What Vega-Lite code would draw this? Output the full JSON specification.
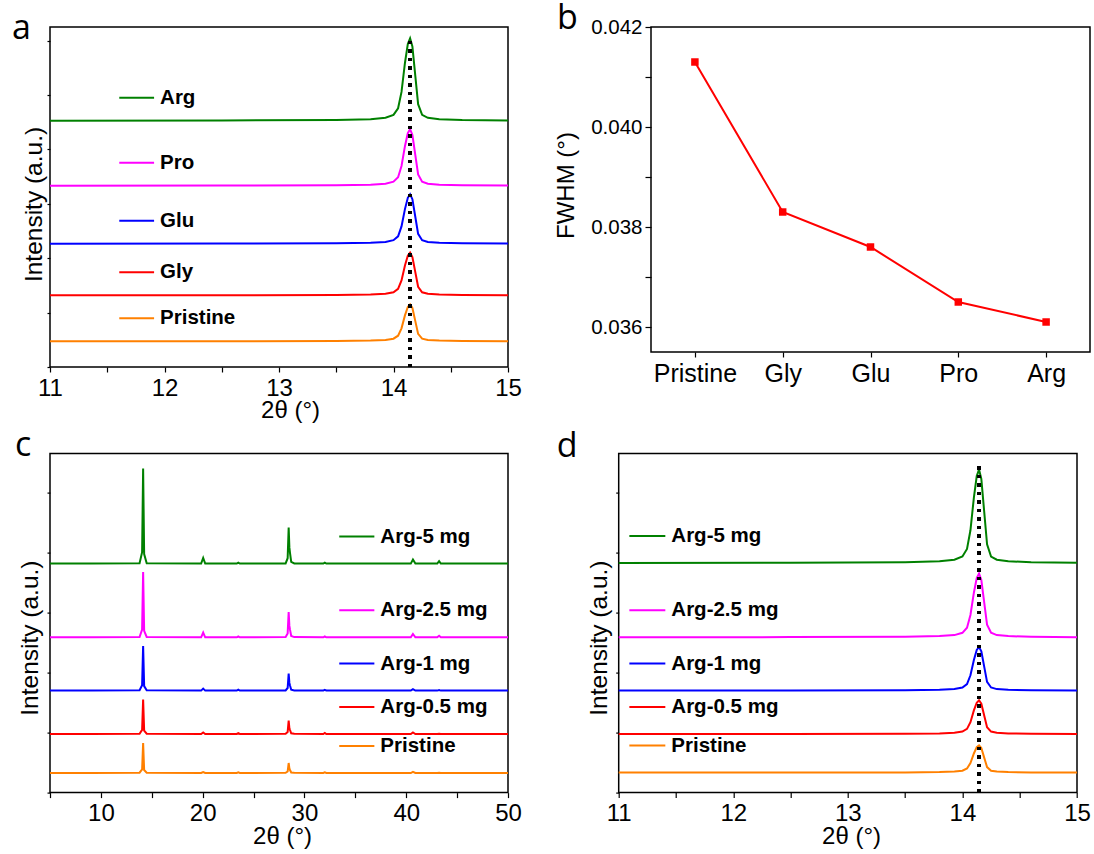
{
  "$schema": "https://vega.github.io/schema/vega-lite/v6.json",
  "padding": {"left": 11, "top": 1, "right": 0, "bottom": 0},
  "spacing": 4.6,
  "resolve": {"scale": {"color": "independent"}},
  "config": {
    "font": "Liberation Sans, Arial, Helvetica, sans-serif",
    "view": {"stroke": "#000", "strokeWidth": 1.5},
    "axis": {"domain": false, "grid": false, "tickColor": "#000", "tickWidth": 1.2, "labelColor": "#000", "titleColor": "#000", "labelFlush": false, "labelOverlap": false, "titleFontWeight": "normal", "labelFont": "Liberation Sans, Arial, sans-serif", "titleFont": "Liberation Sans, Arial, sans-serif"},
    "text": {"font": "Liberation Sans, Arial, sans-serif"},
    "title": {"anchor": "start", "frame": "group", "fontWeight": "normal", "fontSize": 34, "font": "Open Sans, Liberation Sans, sans-serif", "color": "#000", "baseline": "alphabetic"}
  },
  "datasets": {
    "amino": [
      {"sample":"Pristine","angle":11,"intensity":25.7},{"sample":"Pristine","angle":12.5,"intensity":25.8},{"sample":"Pristine","angle":13.5,"intensity":26.0},{"sample":"Pristine","angle":13.8,"intensity":26.4},{"sample":"Pristine","angle":13.93,"intensity":27.0},{"sample":"Pristine","angle":14.0,"intensity":28.3},{"sample":"Pristine","angle":14.04,"intensity":31.3},{"sample":"Pristine","angle":14.07,"intensity":38.7},{"sample":"Pristine","angle":14.1,"intensity":51.6},{"sample":"Pristine","angle":14.125,"intensity":60.1},{"sample":"Pristine","angle":14.145,"intensity":62.7},{"sample":"Pristine","angle":14.165,"intensity":59.0},{"sample":"Pristine","angle":14.19,"intensity":46.1},{"sample":"Pristine","angle":14.215,"intensity":33.1},{"sample":"Pristine","angle":14.25,"intensity":28.3},{"sample":"Pristine","angle":14.3,"intensity":27.0},{"sample":"Pristine","angle":14.4,"intensity":26.4},{"sample":"Pristine","angle":14.6,"intensity":26.0},{"sample":"Pristine","angle":15,"intensity":25.8},
      {"sample":"Gly","angle":11,"intensity":71.7},{"sample":"Gly","angle":12.5,"intensity":71.8},{"sample":"Gly","angle":13.5,"intensity":72.0},{"sample":"Gly","angle":13.8,"intensity":72.5},{"sample":"Gly","angle":13.93,"intensity":73.2},{"sample":"Gly","angle":14.0,"intensity":74.7},{"sample":"Gly","angle":14.04,"intensity":78.1},{"sample":"Gly","angle":14.07,"intensity":86.6},{"sample":"Gly","angle":14.1,"intensity":101.5},{"sample":"Gly","angle":14.125,"intensity":111.3},{"sample":"Gly","angle":14.145,"intensity":114.3},{"sample":"Gly","angle":14.165,"intensity":110.0},{"sample":"Gly","angle":14.19,"intensity":95.1},{"sample":"Gly","angle":14.215,"intensity":80.2},{"sample":"Gly","angle":14.25,"intensity":74.7},{"sample":"Gly","angle":14.3,"intensity":73.2},{"sample":"Gly","angle":14.4,"intensity":72.5},{"sample":"Gly","angle":14.6,"intensity":72.0},{"sample":"Gly","angle":15,"intensity":71.8},
      {"sample":"Glu","angle":11,"intensity":123.3},{"sample":"Glu","angle":12.5,"intensity":123.5},{"sample":"Glu","angle":13.5,"intensity":123.7},{"sample":"Glu","angle":13.8,"intensity":124.2},{"sample":"Glu","angle":13.93,"intensity":125.0},{"sample":"Glu","angle":14.0,"intensity":126.8},{"sample":"Glu","angle":14.04,"intensity":130.7},{"sample":"Glu","angle":14.07,"intensity":140.6},{"sample":"Glu","angle":14.1,"intensity":157.9},{"sample":"Glu","angle":14.125,"intensity":169.2},{"sample":"Glu","angle":14.145,"intensity":172.7},{"sample":"Glu","angle":14.165,"intensity":167.8},{"sample":"Glu","angle":14.19,"intensity":150.5},{"sample":"Glu","angle":14.215,"intensity":133.2},{"sample":"Glu","angle":14.25,"intensity":126.8},{"sample":"Glu","angle":14.3,"intensity":125.0},{"sample":"Glu","angle":14.4,"intensity":124.2},{"sample":"Glu","angle":14.6,"intensity":123.7},{"sample":"Glu","angle":15,"intensity":123.4},
      {"sample":"Pro","angle":11,"intensity":181.3},{"sample":"Pro","angle":12.5,"intensity":181.5},{"sample":"Pro","angle":13.5,"intensity":181.8},{"sample":"Pro","angle":13.8,"intensity":182.3},{"sample":"Pro","angle":13.93,"intensity":183.3},{"sample":"Pro","angle":14.0,"intensity":185.3},{"sample":"Pro","angle":14.04,"intensity":189.8},{"sample":"Pro","angle":14.07,"intensity":201.0},{"sample":"Pro","angle":14.1,"intensity":220.8},{"sample":"Pro","angle":14.125,"intensity":233.8},{"sample":"Pro","angle":14.145,"intensity":237.7},{"sample":"Pro","angle":14.165,"intensity":232.1},{"sample":"Pro","angle":14.19,"intensity":212.3},{"sample":"Pro","angle":14.215,"intensity":192.6},{"sample":"Pro","angle":14.25,"intensity":185.3},{"sample":"Pro","angle":14.3,"intensity":183.3},{"sample":"Pro","angle":14.4,"intensity":182.3},{"sample":"Pro","angle":14.6,"intensity":181.8},{"sample":"Pro","angle":15,"intensity":181.4},
      {"sample":"Arg","angle":11,"intensity":246.3},{"sample":"Arg","angle":12.5,"intensity":246.5},{"sample":"Arg","angle":13.5,"intensity":247.0},{"sample":"Arg","angle":13.8,"intensity":247.8},{"sample":"Arg","angle":13.93,"intensity":249.2},{"sample":"Arg","angle":14.0,"intensity":252.1},{"sample":"Arg","angle":14.04,"intensity":258.7},{"sample":"Arg","angle":14.07,"intensity":275.1},{"sample":"Arg","angle":14.1,"intensity":304.0},{"sample":"Arg","angle":14.125,"intensity":322.9},{"sample":"Arg","angle":14.145,"intensity":328.7},{"sample":"Arg","angle":14.165,"intensity":320.5},{"sample":"Arg","angle":14.19,"intensity":291.6},{"sample":"Arg","angle":14.215,"intensity":262.8},{"sample":"Arg","angle":14.25,"intensity":252.1},{"sample":"Arg","angle":14.3,"intensity":249.2},{"sample":"Arg","angle":14.4,"intensity":247.8},{"sample":"Arg","angle":14.6,"intensity":247.0},{"sample":"Arg","angle":15,"intensity":246.5}
    ],
    "fwhm": [
      {"sample":"Pristine","fwhm":0.0413},
      {"sample":"Gly","fwhm":0.0383},
      {"sample":"Glu","fwhm":0.0376},
      {"sample":"Pro","fwhm":0.0365},
      {"sample":"Arg","fwhm":0.0361}
    ],
    "dose_full": [
      {"sample":"Pristine","angle":5,"intensity":19.6},{"sample":"Pristine","angle":9,"intensity":19.6},{"sample":"Pristine","angle":13.8,"intensity":19.9},{"sample":"Pristine","angle":14.05,"intensity":23.2},{"sample":"Pristine","angle":14.15,"intensity":49.6},{"sample":"Pristine","angle":14.25,"intensity":22.6},{"sample":"Pristine","angle":14.5,"intensity":19.9},{"sample":"Pristine","angle":19.85,"intensity":19.6},{"sample":"Pristine","angle":20.05,"intensity":20.6},{"sample":"Pristine","angle":20.25,"intensity":19.6},{"sample":"Pristine","angle":23.35,"intensity":19.6},{"sample":"Pristine","angle":23.5,"intensity":20.2},{"sample":"Pristine","angle":23.65,"intensity":19.6},{"sample":"Pristine","angle":28.15,"intensity":19.8},{"sample":"Pristine","angle":28.35,"intensity":21.1},{"sample":"Pristine","angle":28.45,"intensity":29.6},{"sample":"Pristine","angle":28.52,"intensity":24.1},{"sample":"Pristine","angle":28.58,"intensity":22.6},{"sample":"Pristine","angle":28.7,"intensity":20.1},{"sample":"Pristine","angle":29.0,"intensity":19.8},{"sample":"Pristine","angle":31.85,"intensity":19.6},{"sample":"Pristine","angle":32.0,"intensity":20.2},{"sample":"Pristine","angle":32.15,"intensity":19.6},{"sample":"Pristine","angle":40.45,"intensity":19.6},{"sample":"Pristine","angle":40.66,"intensity":20.8},{"sample":"Pristine","angle":40.9,"intensity":19.6},{"sample":"Pristine","angle":43.05,"intensity":19.6},{"sample":"Pristine","angle":43.23,"intensity":19.9},{"sample":"Pristine","angle":43.4,"intensity":19.6},{"sample":"Pristine","angle":50,"intensity":19.6},
      {"sample":"Arg-0.5 mg","angle":5,"intensity":58.6},{"sample":"Arg-0.5 mg","angle":9,"intensity":58.6},{"sample":"Arg-0.5 mg","angle":13.8,"intensity":58.9},{"sample":"Arg-0.5 mg","angle":14.05,"intensity":62.7},{"sample":"Arg-0.5 mg","angle":14.15,"intensity":93.0},{"sample":"Arg-0.5 mg","angle":14.25,"intensity":62.0},{"sample":"Arg-0.5 mg","angle":14.5,"intensity":58.9},{"sample":"Arg-0.5 mg","angle":19.85,"intensity":58.6},{"sample":"Arg-0.5 mg","angle":20.05,"intensity":60.1},{"sample":"Arg-0.5 mg","angle":20.25,"intensity":58.6},{"sample":"Arg-0.5 mg","angle":23.35,"intensity":58.6},{"sample":"Arg-0.5 mg","angle":23.5,"intensity":59.4},{"sample":"Arg-0.5 mg","angle":23.65,"intensity":58.6},{"sample":"Arg-0.5 mg","angle":28.15,"intensity":58.8},{"sample":"Arg-0.5 mg","angle":28.35,"intensity":60.6},{"sample":"Arg-0.5 mg","angle":28.45,"intensity":72.0},{"sample":"Arg-0.5 mg","angle":28.52,"intensity":64.6},{"sample":"Arg-0.5 mg","angle":28.58,"intensity":62.6},{"sample":"Arg-0.5 mg","angle":28.7,"intensity":59.3},{"sample":"Arg-0.5 mg","angle":29.0,"intensity":58.8},{"sample":"Arg-0.5 mg","angle":31.85,"intensity":58.6},{"sample":"Arg-0.5 mg","angle":32.0,"intensity":59.6},{"sample":"Arg-0.5 mg","angle":32.15,"intensity":58.6},{"sample":"Arg-0.5 mg","angle":40.45,"intensity":58.6},{"sample":"Arg-0.5 mg","angle":40.66,"intensity":60.1},{"sample":"Arg-0.5 mg","angle":40.9,"intensity":58.6},{"sample":"Arg-0.5 mg","angle":43.05,"intensity":58.6},{"sample":"Arg-0.5 mg","angle":43.23,"intensity":58.9},{"sample":"Arg-0.5 mg","angle":43.4,"intensity":58.6},{"sample":"Arg-0.5 mg","angle":50,"intensity":58.6},
      {"sample":"Arg-1 mg","angle":5,"intensity":102},{"sample":"Arg-1 mg","angle":9,"intensity":102},{"sample":"Arg-1 mg","angle":13.8,"intensity":102.3},{"sample":"Arg-1 mg","angle":14.05,"intensity":107.4},{"sample":"Arg-1 mg","angle":14.15,"intensity":146.6},{"sample":"Arg-1 mg","angle":14.25,"intensity":106.5},{"sample":"Arg-1 mg","angle":14.5,"intensity":102.3},{"sample":"Arg-1 mg","angle":19.85,"intensity":102},{"sample":"Arg-1 mg","angle":20.05,"intensity":104},{"sample":"Arg-1 mg","angle":20.25,"intensity":102},{"sample":"Arg-1 mg","angle":23.35,"intensity":102},{"sample":"Arg-1 mg","angle":23.5,"intensity":103},{"sample":"Arg-1 mg","angle":23.65,"intensity":102},{"sample":"Arg-1 mg","angle":28.15,"intensity":102.2},{"sample":"Arg-1 mg","angle":28.35,"intensity":104.6},{"sample":"Arg-1 mg","angle":28.45,"intensity":119},{"sample":"Arg-1 mg","angle":28.52,"intensity":109.7},{"sample":"Arg-1 mg","angle":28.58,"intensity":107.1},{"sample":"Arg-1 mg","angle":28.7,"intensity":102.9},{"sample":"Arg-1 mg","angle":29.0,"intensity":102.2},{"sample":"Arg-1 mg","angle":31.85,"intensity":102},{"sample":"Arg-1 mg","angle":32.0,"intensity":102.8},{"sample":"Arg-1 mg","angle":32.15,"intensity":102},{"sample":"Arg-1 mg","angle":40.45,"intensity":102},{"sample":"Arg-1 mg","angle":40.66,"intensity":103.5},{"sample":"Arg-1 mg","angle":40.9,"intensity":102},{"sample":"Arg-1 mg","angle":43.05,"intensity":102},{"sample":"Arg-1 mg","angle":43.23,"intensity":102.5},{"sample":"Arg-1 mg","angle":43.4,"intensity":102},{"sample":"Arg-1 mg","angle":50,"intensity":102},
      {"sample":"Arg-2.5 mg","angle":5,"intensity":155.3},{"sample":"Arg-2.5 mg","angle":9,"intensity":155.3},{"sample":"Arg-2.5 mg","angle":13.8,"intensity":155.6},{"sample":"Arg-2.5 mg","angle":14.05,"intensity":163.1},{"sample":"Arg-2.5 mg","angle":14.15,"intensity":220.6},{"sample":"Arg-2.5 mg","angle":14.25,"intensity":161.8},{"sample":"Arg-2.5 mg","angle":14.5,"intensity":155.6},{"sample":"Arg-2.5 mg","angle":19.85,"intensity":155.3},{"sample":"Arg-2.5 mg","angle":20.05,"intensity":160},{"sample":"Arg-2.5 mg","angle":20.25,"intensity":155.3},{"sample":"Arg-2.5 mg","angle":23.35,"intensity":155.3},{"sample":"Arg-2.5 mg","angle":23.5,"intensity":156.1},{"sample":"Arg-2.5 mg","angle":23.65,"intensity":155.3},{"sample":"Arg-2.5 mg","angle":28.15,"intensity":155.5},{"sample":"Arg-2.5 mg","angle":28.35,"intensity":159.1},{"sample":"Arg-2.5 mg","angle":28.45,"intensity":180.6},{"sample":"Arg-2.5 mg","angle":28.52,"intensity":166.7},{"sample":"Arg-2.5 mg","angle":28.58,"intensity":162.9},{"sample":"Arg-2.5 mg","angle":28.7,"intensity":156.6},{"sample":"Arg-2.5 mg","angle":29.0,"intensity":155.5},{"sample":"Arg-2.5 mg","angle":31.85,"intensity":155.3},{"sample":"Arg-2.5 mg","angle":32.0,"intensity":156.1},{"sample":"Arg-2.5 mg","angle":32.15,"intensity":155.3},{"sample":"Arg-2.5 mg","angle":40.45,"intensity":155.3},{"sample":"Arg-2.5 mg","angle":40.66,"intensity":158.6},{"sample":"Arg-2.5 mg","angle":40.9,"intensity":155.3},{"sample":"Arg-2.5 mg","angle":43.05,"intensity":155.3},{"sample":"Arg-2.5 mg","angle":43.23,"intensity":156.8},{"sample":"Arg-2.5 mg","angle":43.4,"intensity":155.3},{"sample":"Arg-2.5 mg","angle":50,"intensity":155.3},
      {"sample":"Arg-5 mg","angle":5,"intensity":229},{"sample":"Arg-5 mg","angle":9,"intensity":229},{"sample":"Arg-5 mg","angle":13.8,"intensity":229.3},{"sample":"Arg-5 mg","angle":14.05,"intensity":240.4},{"sample":"Arg-5 mg","angle":14.15,"intensity":324},{"sample":"Arg-5 mg","angle":14.25,"intensity":238.5},{"sample":"Arg-5 mg","angle":14.5,"intensity":229.3},{"sample":"Arg-5 mg","angle":19.85,"intensity":229},{"sample":"Arg-5 mg","angle":20.05,"intensity":234.6},{"sample":"Arg-5 mg","angle":20.25,"intensity":229},{"sample":"Arg-5 mg","angle":23.35,"intensity":229},{"sample":"Arg-5 mg","angle":23.5,"intensity":230},{"sample":"Arg-5 mg","angle":23.65,"intensity":229},{"sample":"Arg-5 mg","angle":28.15,"intensity":229.2},{"sample":"Arg-5 mg","angle":28.35,"intensity":234.4},{"sample":"Arg-5 mg","angle":28.45,"intensity":265},{"sample":"Arg-5 mg","angle":28.52,"intensity":245.2},{"sample":"Arg-5 mg","angle":28.58,"intensity":239.8},{"sample":"Arg-5 mg","angle":28.7,"intensity":230.8},{"sample":"Arg-5 mg","angle":29.0,"intensity":229.2},{"sample":"Arg-5 mg","angle":31.85,"intensity":229},{"sample":"Arg-5 mg","angle":32.0,"intensity":230},{"sample":"Arg-5 mg","angle":32.15,"intensity":229},{"sample":"Arg-5 mg","angle":40.45,"intensity":229},{"sample":"Arg-5 mg","angle":40.66,"intensity":233},{"sample":"Arg-5 mg","angle":40.9,"intensity":229},{"sample":"Arg-5 mg","angle":43.05,"intensity":229},{"sample":"Arg-5 mg","angle":43.23,"intensity":231.5},{"sample":"Arg-5 mg","angle":43.4,"intensity":229},{"sample":"Arg-5 mg","angle":50,"intensity":229}
    ],
    "dose_zoom": [
      {"sample":"Pristine","angle":11,"intensity":20},{"sample":"Pristine","angle":12.5,"intensity":20.1},{"sample":"Pristine","angle":13.5,"intensity":20.2},{"sample":"Pristine","angle":13.8,"intensity":20.5},{"sample":"Pristine","angle":13.93,"intensity":21.0},{"sample":"Pristine","angle":14.0,"intensity":21.9},{"sample":"Pristine","angle":14.04,"intensity":24.1},{"sample":"Pristine","angle":14.07,"intensity":29.6},{"sample":"Pristine","angle":14.1,"intensity":39.1},{"sample":"Pristine","angle":14.125,"intensity":45.4},{"sample":"Pristine","angle":14.145,"intensity":47.3},{"sample":"Pristine","angle":14.165,"intensity":44.6},{"sample":"Pristine","angle":14.19,"intensity":35.0},{"sample":"Pristine","angle":14.215,"intensity":25.5},{"sample":"Pristine","angle":14.25,"intensity":21.9},{"sample":"Pristine","angle":14.3,"intensity":21.0},{"sample":"Pristine","angle":14.4,"intensity":20.5},{"sample":"Pristine","angle":14.6,"intensity":20.2},{"sample":"Pristine","angle":15,"intensity":20.1},
      {"sample":"Arg-0.5 mg","angle":11,"intensity":58.6},{"sample":"Arg-0.5 mg","angle":12.5,"intensity":58.7},{"sample":"Arg-0.5 mg","angle":13.5,"intensity":58.9},{"sample":"Arg-0.5 mg","angle":13.8,"intensity":59.2},{"sample":"Arg-0.5 mg","angle":13.93,"intensity":59.8},{"sample":"Arg-0.5 mg","angle":14.0,"intensity":61.0},{"sample":"Arg-0.5 mg","angle":14.04,"intensity":63.7},{"sample":"Arg-0.5 mg","angle":14.07,"intensity":70.4},{"sample":"Arg-0.5 mg","angle":14.1,"intensity":82.2},{"sample":"Arg-0.5 mg","angle":14.125,"intensity":89.9},{"sample":"Arg-0.5 mg","angle":14.145,"intensity":92.3},{"sample":"Arg-0.5 mg","angle":14.165,"intensity":88.9},{"sample":"Arg-0.5 mg","angle":14.19,"intensity":77.1},{"sample":"Arg-0.5 mg","angle":14.215,"intensity":65.3},{"sample":"Arg-0.5 mg","angle":14.25,"intensity":61.0},{"sample":"Arg-0.5 mg","angle":14.3,"intensity":59.8},{"sample":"Arg-0.5 mg","angle":14.4,"intensity":59.2},{"sample":"Arg-0.5 mg","angle":14.6,"intensity":58.9},{"sample":"Arg-0.5 mg","angle":15,"intensity":58.7},
      {"sample":"Arg-1 mg","angle":11,"intensity":102},{"sample":"Arg-1 mg","angle":12.5,"intensity":102.1},{"sample":"Arg-1 mg","angle":13.5,"intensity":102.3},{"sample":"Arg-1 mg","angle":13.8,"intensity":102.8},{"sample":"Arg-1 mg","angle":13.93,"intensity":103.5},{"sample":"Arg-1 mg","angle":14.0,"intensity":105.1},{"sample":"Arg-1 mg","angle":14.04,"intensity":108.5},{"sample":"Arg-1 mg","angle":14.07,"intensity":117.3},{"sample":"Arg-1 mg","angle":14.1,"intensity":132.5},{"sample":"Arg-1 mg","angle":14.125,"intensity":142.6},{"sample":"Arg-1 mg","angle":14.145,"intensity":145.6},{"sample":"Arg-1 mg","angle":14.165,"intensity":141.2},{"sample":"Arg-1 mg","angle":14.19,"intensity":126.0},{"sample":"Arg-1 mg","angle":14.215,"intensity":110.7},{"sample":"Arg-1 mg","angle":14.25,"intensity":105.1},{"sample":"Arg-1 mg","angle":14.3,"intensity":103.5},{"sample":"Arg-1 mg","angle":14.4,"intensity":102.8},{"sample":"Arg-1 mg","angle":14.6,"intensity":102.3},{"sample":"Arg-1 mg","angle":15,"intensity":102.1},
      {"sample":"Arg-2.5 mg","angle":11,"intensity":155.3},{"sample":"Arg-2.5 mg","angle":12.5,"intensity":155.5},{"sample":"Arg-2.5 mg","angle":13.5,"intensity":155.8},{"sample":"Arg-2.5 mg","angle":13.8,"intensity":156.5},{"sample":"Arg-2.5 mg","angle":13.93,"intensity":157.5},{"sample":"Arg-2.5 mg","angle":14.0,"intensity":159.8},{"sample":"Arg-2.5 mg","angle":14.04,"intensity":164.9},{"sample":"Arg-2.5 mg","angle":14.07,"intensity":177.6},{"sample":"Arg-2.5 mg","angle":14.1,"intensity":199.9},{"sample":"Arg-2.5 mg","angle":14.125,"intensity":214.5},{"sample":"Arg-2.5 mg","angle":14.145,"intensity":219.0},{"sample":"Arg-2.5 mg","angle":14.165,"intensity":212.6},{"sample":"Arg-2.5 mg","angle":14.19,"intensity":190.3},{"sample":"Arg-2.5 mg","angle":14.215,"intensity":168.0},{"sample":"Arg-2.5 mg","angle":14.25,"intensity":159.8},{"sample":"Arg-2.5 mg","angle":14.3,"intensity":157.5},{"sample":"Arg-2.5 mg","angle":14.4,"intensity":156.5},{"sample":"Arg-2.5 mg","angle":14.6,"intensity":155.8},{"sample":"Arg-2.5 mg","angle":15,"intensity":155.4},
      {"sample":"Arg-5 mg","angle":11,"intensity":229.6},{"sample":"Arg-5 mg","angle":12.5,"intensity":229.9},{"sample":"Arg-5 mg","angle":13.5,"intensity":230.4},{"sample":"Arg-5 mg","angle":13.8,"intensity":231.3},{"sample":"Arg-5 mg","angle":13.93,"intensity":232.9},{"sample":"Arg-5 mg","angle":14.0,"intensity":236.1},{"sample":"Arg-5 mg","angle":14.04,"intensity":243.6},{"sample":"Arg-5 mg","angle":14.07,"intensity":262.3},{"sample":"Arg-5 mg","angle":14.1,"intensity":295.0},{"sample":"Arg-5 mg","angle":14.125,"intensity":316.5},{"sample":"Arg-5 mg","angle":14.145,"intensity":323.0},{"sample":"Arg-5 mg","angle":14.165,"intensity":313.7},{"sample":"Arg-5 mg","angle":14.19,"intensity":281.0},{"sample":"Arg-5 mg","angle":14.215,"intensity":248.3},{"sample":"Arg-5 mg","angle":14.25,"intensity":236.1},{"sample":"Arg-5 mg","angle":14.3,"intensity":232.9},{"sample":"Arg-5 mg","angle":14.4,"intensity":231.3},{"sample":"Arg-5 mg","angle":14.6,"intensity":230.4},{"sample":"Arg-5 mg","angle":15,"intensity":229.8}
    ]
  },
  "vconcat": [
    {
      "bounds": "flush",
      "spacing": 143,
      "resolve": {"scale": {"color": "independent"}},
      "hconcat": [
        {
          "width": 458, "height": 340,
          "title": {"text": "a", "dx": -38, "offset": -19},
          "data": {"name": "amino"},
          "layer": [
            {
              "mark": {"type": "line", "strokeWidth": 2},
              "encoding": {
                "x": {"field": "angle", "type": "quantitative", "scale": {"domain": [11, 15], "nice": false, "zero": false},
                  "axis": {"title": "2θ (°)", "values": [11, 11.5, 12, 12.5, 13, 13.5, 14, 14.5, 15], "labelExpr": "datum.value % 1 ? '' : format(datum.value, 'd')", "tickSize": 5, "labelPadding": 4, "labelFontSize": 24, "titleFontSize": 24, "titleBaseline": "alphabetic", "titleAlign": "center", "titleX": 240, "titleY": 50}},
                "y": {"field": "intensity", "type": "quantitative", "scale": {"domain": [0, 340], "nice": false, "zero": false},
                  "axis": {"title": "Intensity (a.u.)", "labels": false, "values": [0, 13.6, 27.2, 40.8, 54.4, 68, 81.6, 95.2, 108.8, 122.4, 136, 149.6, 163.2, 176.8, 190.4, 204, 217.6, 231.2, 244.8, 258.4, 272, 285.6, 299.2, 312.8, 326.4, 340], "tickSize": 3, "titleFontSize": 24.5, "titleBaseline": "alphabetic", "titleAlign": "center", "titleAngle": 270, "titleX": -9, "titleY": 177}},
                "color": {"field": "sample", "type": "nominal", "scale": {"domain": ["Pristine", "Gly", "Glu", "Pro", "Arg"], "range": ["#ff8000", "#ff0000", "#0000ff", "#ff00ff", "#008000"]}, "legend": null}
              }
            },
            {
              "mark": {"type": "rule", "color": "#000", "strokeWidth": 2.6, "strokeDash": [3, 5.5]},
              "encoding": {"x": {"datum": 14.145}, "y": {"datum": 0}, "y2": {"datum": 330}}
            },
            {
              "transform": [{"aggregate": [{"op": "min", "field": "intensity", "as": "floor"}], "groupby": ["sample"]}],
              "mark": {"type": "rule", "strokeWidth": 2, "yOffset": -23},
              "encoding": {"x": {"datum": 11.605}, "x2": {"datum": 11.909}, "y": {"field": "floor", "type": "quantitative"}, "color": {"field": "sample", "type": "nominal"}}
            },
            {
              "transform": [{"aggregate": [{"op": "min", "field": "intensity", "as": "floor"}], "groupby": ["sample"]}],
              "mark": {"type": "text", "align": "left", "baseline": "middle", "dx": 6, "yOffset": -23, "fontSize": 20.5, "fontWeight": "bold", "color": "#000"},
              "encoding": {"x": {"datum": 11.909}, "y": {"field": "floor", "type": "quantitative"}, "text": {"field": "sample"}}
            }
          ]
        },
        {
          "width": 439, "height": 325,
          "title": {"text": "b", "dx": -94, "offset": -19},
          "data": {"name": "fwhm"},
          "encoding": {
            "x": {"field": "sample", "type": "nominal", "sort": null, "scale": {"type": "point", "padding": 0.5},
              "axis": {"title": null, "labelAngle": 0, "tickSize": 5, "labelPadding": 4, "labelFontSize": 25}},
            "y": {"field": "fwhm", "type": "quantitative", "scale": {"domain": [0.0355, 0.042], "nice": false, "zero": false},
              "axis": {"title": "FWHM (°)", "values": [0.036, 0.037, 0.038, 0.039, 0.04, 0.041, 0.042], "labelExpr": "round(datum.value * 1000) % 2 == 0 ? format(datum.value, '.3f') : ''", "tickSize": 6, "labelPadding": 3, "labelFontSize": 20.5, "titleFontSize": 24, "titleBaseline": "alphabetic", "titleAlign": "center", "titleAngle": 270, "titleX": -78, "titleY": 158}}
          },
          "layer": [
            {"mark": {"type": "line", "color": "#ff0000", "strokeWidth": 2}},
            {"mark": {"type": "point", "shape": "square", "filled": true, "size": 56, "color": "#ff0000", "opacity": 1}}
          ]
        }
      ]
    },
    {
      "bounds": "flush",
      "spacing": 110.7,
      "resolve": {"scale": {"color": "independent"}},
      "hconcat": [
        {
          "width": 458, "height": 339,
          "title": {"text": "c", "dx": -35, "offset": -9},
          "data": {"name": "dose_full"},
          "layer": [
            {
              "mark": {"type": "line", "strokeWidth": 2},
              "encoding": {
                "x": {"field": "angle", "type": "quantitative", "scale": {"domain": [5, 50], "nice": false, "zero": false},
                  "axis": {"title": "2θ (°)", "values": [5, 10, 15, 20, 25, 30, 35, 40, 45, 50], "labelExpr": "datum.value % 10 ? '' : format(datum.value, 'd')", "tickSize": 5, "labelPadding": 4, "labelFontSize": 24, "titleFontSize": 24, "titleBaseline": "alphabetic", "titleAlign": "center", "titleX": 232, "titleY": 51}},
                "y": {"field": "intensity", "type": "quantitative", "scale": {"domain": [0, 339], "nice": false, "zero": false},
                  "axis": {"title": "Intensity (a.u.)", "labels": false, "values": [0, 15, 30, 45, 60, 75, 90, 105, 120, 135, 150, 165, 180, 195, 210, 225, 240, 255, 270, 285, 300, 315, 330], "tickSize": 3, "titleFontSize": 24.5, "titleBaseline": "alphabetic", "titleAlign": "center", "titleAngle": 270, "titleX": -13, "titleY": 184}},
                "color": {"field": "sample", "type": "nominal", "scale": {"domain": ["Pristine", "Arg-0.5 mg", "Arg-1 mg", "Arg-2.5 mg", "Arg-5 mg"], "range": ["#ff8000", "#ff0000", "#0000ff", "#ff00ff", "#008000"]}, "legend": null}
              }
            },
            {
              "transform": [{"aggregate": [{"op": "min", "field": "intensity", "as": "floor"}], "groupby": ["sample"]}],
              "mark": {"type": "rule", "strokeWidth": 2, "yOffset": -27},
              "encoding": {"x": {"datum": 33.42}, "x2": {"datum": 36.87}, "y": {"field": "floor", "type": "quantitative"}, "color": {"field": "sample", "type": "nominal"}}
            },
            {
              "transform": [{"aggregate": [{"op": "min", "field": "intensity", "as": "floor"}], "groupby": ["sample"]}],
              "mark": {"type": "text", "align": "left", "baseline": "middle", "dx": 6, "yOffset": -27, "fontSize": 20.5, "fontWeight": "bold", "color": "#000"},
              "encoding": {"x": {"datum": 36.87}, "y": {"field": "floor", "type": "quantitative"}, "text": {"field": "sample"}}
            }
          ]
        },
        {
          "width": 458.3, "height": 339,
          "title": {"text": "d", "dx": -62, "offset": -10},
          "data": {"name": "dose_zoom"},
          "layer": [
            {
              "mark": {"type": "line", "strokeWidth": 2},
              "encoding": {
                "x": {"field": "angle", "type": "quantitative", "scale": {"domain": [11, 15], "nice": false, "zero": false},
                  "axis": {"title": "2θ (°)", "values": [11, 11.5, 12, 12.5, 13, 13.5, 14, 14.5, 15], "labelExpr": "datum.value % 1 ? '' : format(datum.value, 'd')", "tickSize": 5, "labelPadding": 4, "labelFontSize": 24, "titleFontSize": 24, "titleBaseline": "alphabetic", "titleAlign": "center", "titleX": 232.3, "titleY": 51}},
                "y": {"field": "intensity", "type": "quantitative", "scale": {"domain": [0, 339], "nice": false, "zero": false},
                  "axis": {"title": "Intensity (a.u.)", "labels": false, "values": [0, 15, 30, 45, 60, 75, 90, 105, 120, 135, 150, 165, 180, 195, 210, 225, 240, 255, 270, 285, 300, 315, 330], "tickSize": 3, "titleFontSize": 24.5, "titleBaseline": "alphabetic", "titleAlign": "center", "titleAngle": 270, "titleX": -12.5, "titleY": 184}},
                "color": {"field": "sample", "type": "nominal", "scale": {"domain": ["Pristine", "Arg-0.5 mg", "Arg-1 mg", "Arg-2.5 mg", "Arg-5 mg"], "range": ["#ff8000", "#ff0000", "#0000ff", "#ff00ff", "#008000"]}, "legend": null}
              }
            },
            {
              "mark": {"type": "rule", "color": "#000", "strokeWidth": 2.6, "strokeDash": [3, 5.5]},
              "encoding": {"x": {"datum": 14.146}, "y": {"datum": 0}, "y2": {"datum": 327}}
            },
            {
              "transform": [{"aggregate": [{"op": "min", "field": "intensity", "as": "floor"}], "groupby": ["sample"]}],
              "mark": {"type": "rule", "strokeWidth": 2, "yOffset": -27},
              "encoding": {"x": {"datum": 11.093}, "x2": {"datum": 11.407}, "y": {"field": "floor", "type": "quantitative"}, "color": {"field": "sample", "type": "nominal"}}
            },
            {
              "transform": [{"aggregate": [{"op": "min", "field": "intensity", "as": "floor"}], "groupby": ["sample"]}],
              "mark": {"type": "text", "align": "left", "baseline": "middle", "dx": 6, "yOffset": -27, "fontSize": 20.5, "fontWeight": "bold", "color": "#000"},
              "encoding": {"x": {"datum": 11.407}, "y": {"field": "floor", "type": "quantitative"}, "text": {"field": "sample"}}
            }
          ]
        }
      ]
    }
  ]
}
